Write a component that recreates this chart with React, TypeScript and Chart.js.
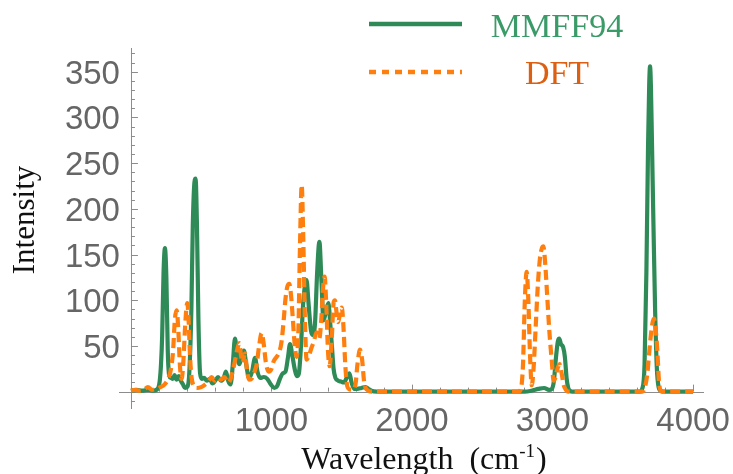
import React, { useEffect, useRef } from 'react';
import { Chart, registerables } from 'chart.js';

Chart.register(...registerables);

// ---- Data ----
const seriesNames = ['MMFF94', 'DFT'];

const mmffX = [0, 40, 80, 120, 160, 190, 205, 214, 222, 232, 242, 252, 262, 272, 285, 298, 310, 325, 340, 355, 370, 385, 400, 415, 430, 440, 450, 460, 470, 480, 492, 505, 520, 540, 560, 580, 600, 620, 640, 660, 676, 692, 709, 725, 740, 755, 771, 788, 804, 820, 840, 862, 883, 900, 920, 945, 970, 995, 1020, 1040, 1060, 1080, 1100, 1118, 1132, 1148, 1165, 1180, 1195, 1210, 1225, 1240, 1250, 1262, 1281, 1295, 1310, 1325, 1341, 1356, 1370, 1388, 1405, 1418, 1430, 1442, 1455, 1475, 1495, 1515, 1535, 1555, 1570, 1590, 1610, 1640, 1670, 1690, 1710, 1750, 2000, 2500, 2800, 2850, 2900, 2940, 2975, 2995, 3010, 3025, 3038, 3048, 3060, 3075, 3088, 3100, 3112, 3125, 3140, 3200, 3500, 3620, 3640, 3655, 3668, 3680, 3688, 3694, 3700, 3708, 3718, 3730, 3742, 3755, 3770, 3800, 4000];
const mmffY = [1, 2, 1, 2, 1, 3, 12, 30, 60, 130, 157, 125, 45, 18, 15, 14, 18, 13, 17, 12, 8, 4, 5, 20, 90, 180, 225, 233, 180, 80, 20, 14, 15, 12, 14, 9, 12, 16, 12, 15, 22, 12, 8, 30, 58, 42, 30, 38, 45, 30, 15, 22, 37, 22, 15, 16, 14, 8, 4, 6, 14, 20, 22, 38, 52, 40, 25, 17, 20, 50, 95, 118, 122, 100, 67, 62, 75, 130, 164, 120, 78, 88, 97, 75, 50, 25, 15, 12, 11, 10, 15, 20, 10, 3, 3, 4, 5, 3, 1, 0, 0, 0, 0, 1, 3, 4, 2, 3, 12, 38, 55, 58, 52, 49, 38, 15, 4, 1, 0, 0, 0, 0, 4, 30, 130, 270, 335, 356, 335, 270, 185, 90, 27, 5, 1, 0, 0];

const dftX = [0, 30, 60, 90, 121, 150, 180, 210, 240, 265, 285, 300, 312, 325, 337, 348, 360, 372, 385, 395, 401, 410, 420, 432, 445, 470, 500, 530, 555, 574, 595, 615, 640, 665, 690, 705, 720, 738, 755, 771, 783, 795, 811, 825, 840, 858, 875, 895, 912, 930, 945, 960, 980, 1000, 1015, 1037, 1055, 1072, 1088, 1100, 1113, 1127, 1140, 1151, 1165, 1179, 1192, 1203, 1215, 1226, 1238, 1250, 1268, 1285, 1300, 1321, 1340, 1355, 1368, 1378, 1390, 1402, 1414, 1428, 1443, 1452, 1462, 1474, 1488, 1500, 1512, 1525, 1537, 1550, 1575, 1598, 1612, 1630, 1645, 1660, 1680, 1710, 2000, 2500, 2760, 2775, 2790, 2803, 2816, 2828, 2840, 2852, 2865, 2880, 2895, 2910, 2925, 2935, 2948, 2962, 2978, 2994, 3008, 3020, 3035, 3050, 3065, 3080, 3095, 3110, 3300, 3640, 3658, 3675, 3694, 3710, 3722, 3734, 3746, 3756, 3765, 3780, 4000];
const dftY = [1, 2, 1, 2, 5, 2, 3, 5, 8, 14, 25, 45, 78, 89, 68, 30, 14, 30, 70, 92, 97, 80, 40, 15, 7, 4, 5, 8, 12, 16, 12, 15, 13, 16, 10, 12, 20, 32, 45, 53, 40, 32, 42, 25, 13, 14, 20, 30, 50, 64, 52, 32, 22, 25, 33, 38, 43, 55, 80, 102, 115, 118, 104, 82, 52, 38, 70, 160, 226, 170, 80, 35, 40, 48, 54, 65, 58, 80, 115, 126, 95, 45, 28, 55, 98, 100, 88, 76, 85, 92, 72, 30, 8, 3, 2, 8, 30, 46, 35, 10, 2, 0, 0, 0, 0, 3, 30, 100, 131, 100, 40, 7, 25, 70, 115, 145, 157, 159, 140, 105, 65, 35, 12, 15, 25, 30, 20, 7, 2, 0, 0, 0, 5, 20, 53, 74, 80, 68, 45, 15, 3, 0, 0];

const xTickValues = [1000, 2000, 3000, 4000];
const xTickLabels = ['1000', '2000', '3000', '4000'];
const yTickValues = [50, 100, 150, 200, 250, 300, 350];
const yTickLabels = ['50', '100', '150', '200', '250', '300', '350'];
const xTitle = 'Wavelength  (cm';
const xTitleSup = '-1';
const xTitleEnd = ')';
const yTitle = 'Intensity';

const GREEN = '#2e8b57';
const ORANGE = '#ff7f0e';

const axesPlugin = {
  id: 'mathAxes',
  beforeDatasetsDraw(chart: any) {
    const { ctx, chartArea, scales } = chart;
    const xs = scales.x;
    const ys = scales.y;
    const x0 = xs.getPixelForValue(0);
    const y0 = ys.getPixelForValue(0);
    ctx.save();
    ctx.strokeStyle = '#8c8c8c';
    ctx.lineWidth = 1;
    ctx.beginPath();
    ctx.moveTo(chartArea.left, Math.round(y0) + 0.5);
    ctx.lineTo(chartArea.right, Math.round(y0) + 0.5);
    ctx.moveTo(Math.round(x0) + 0.5, chartArea.top);
    ctx.lineTo(Math.round(x0) + 0.5, chartArea.bottom);
    for (let v = 200; v <= 4000; v += 200) {
      const px = Math.round(xs.getPixelForValue(v)) + 0.5;
      const len = v % 1000 === 0 ? 7 : 4;
      ctx.moveTo(px, y0);
      ctx.lineTo(px, y0 - len);
    }
    for (let v = -10; v <= 370; v += 10) {
      if (v === 0) continue;
      const py = Math.round(ys.getPixelForValue(v)) + 0.5;
      const len = v % 50 === 0 ? 7 : 4;
      ctx.moveTo(x0, py);
      ctx.lineTo(x0 + len, py);
    }
    ctx.stroke();
    ctx.restore();
  },
  afterDraw(chart: any) {
    const { ctx, scales } = chart;
    const xs = scales.x;
    const ys = scales.y;
    const x0 = xs.getPixelForValue(0);
    const y0 = ys.getPixelForValue(0);
    ctx.save();
    // tick labels
    ctx.fillStyle = '#666666';
    ctx.font = '33px "Liberation Sans", Arial, sans-serif';
    ctx.textAlign = 'right';
    ctx.textBaseline = 'alphabetic';
    yTickValues.forEach((v, i) => {
      const py = ys.getPixelForValue(v);
      ctx.fillText(yTickLabels[i], x0 - 11, py + 12);
    });
    ctx.textAlign = 'center';
    xTickValues.forEach((v, i) => {
      const px = xs.getPixelForValue(v);
      ctx.fillText(xTickLabels[i], px, y0 + 39);
    });

    // axis titles
    ctx.fillStyle = '#111111';
    ctx.textAlign = 'left';
    const supFont = '19px "Liberation Serif", "DejaVu Serif", serif';
    const mainFont = '32px "Liberation Serif", "DejaVu Serif", serif';
    ctx.font = mainFont;
    const w1 = ctx.measureText(xTitle).width;
    const w3 = ctx.measureText(xTitleEnd).width;
    ctx.font = supFont;
    const w2 = ctx.measureText(xTitleSup).width;
    const total = w1 + w2 + 1 + w3;
    const cx = 424;
    const base = 469;
    let sx = cx - total / 2;
    ctx.font = mainFont;
    ctx.fillText(xTitle, sx, base);
    sx += w1;
    ctx.font = supFont;
    ctx.fillText(xTitleSup, sx, base - 12);
    sx += w2 + 1;
    ctx.font = mainFont;
    ctx.fillText(xTitleEnd, sx, base);

    ctx.save();
    ctx.translate(34, 220);
    ctx.rotate(-Math.PI / 2);
    ctx.textAlign = 'center';
    ctx.font = '31px "Liberation Serif", "DejaVu Serif", serif';
    ctx.fillText(yTitle, 0, 0);
    ctx.restore();

    // legend
    ctx.lineWidth = 4.5;
    ctx.strokeStyle = GREEN;
    ctx.setLineDash([]);
    ctx.beginPath();
    ctx.moveTo(369, 24);
    ctx.lineTo(462, 24);
    ctx.stroke();
    ctx.strokeStyle = ORANGE;
    ctx.setLineDash([7, 6]);
    ctx.beginPath();
    ctx.moveTo(369, 72);
    ctx.lineTo(462, 72);
    ctx.stroke();
    ctx.setLineDash([]);
    ctx.textAlign = 'center';
    ctx.font = '34px "Liberation Serif", "DejaVu Serif", serif';
    ctx.fillStyle = '#3a9a68';
    ctx.fillText(seriesNames[0], 557, 37);
    ctx.fillStyle = '#dc5f12';
    ctx.fillText(seriesNames[1], 557, 84);
    ctx.restore();
  },
};

export default function App() {
  const canvasRef = useRef<HTMLCanvasElement | null>(null);

  useEffect(() => {
    const canvas = canvasRef.current;
    if (!canvas) return;
    const chart = new Chart(canvas, {
      type: 'line',
      data: {
        datasets: [
          {
            label: seriesNames[0],
            data: mmffX.map((x, i) => ({ x, y: mmffY[i] })),
            borderColor: GREEN,
            borderWidth: 4.2,
            pointRadius: 0,
            fill: false,
            cubicInterpolationMode: 'monotone',
            order: 1,
          },
          {
            label: seriesNames[1],
            data: dftX.map((x, i) => ({ x, y: dftY[i] })),
            borderColor: ORANGE,
            borderWidth: 4.2,
            borderDash: [10, 5],
            pointRadius: 0,
            fill: false,
            cubicInterpolationMode: 'monotone',
            order: 0,
          },
        ],
      },
      options: {
        animation: false,
        responsive: false,
        devicePixelRatio: 1,
        layout: { padding: { left: 119, right: 29, top: 48, bottom: 65 } },
        plugins: {
          legend: { display: false },
          tooltip: { enabled: false },
        },
        scales: {
          x: { type: 'linear', min: -85, max: 4078, display: false },
          y: { type: 'linear', min: -19, max: 376, display: false },
        },
      },
      plugins: [axesPlugin],
    } as any);
    return () => chart.destroy();
  }, []);

  return (
    <div style={{ position: 'fixed', left: 0, top: 0, width: 733, height: 474, background: '#fff' }}>
      <canvas ref={canvasRef} width={733} height={474} style={{ display: 'block', width: 733, height: 474 }} />
    </div>
  );
}
